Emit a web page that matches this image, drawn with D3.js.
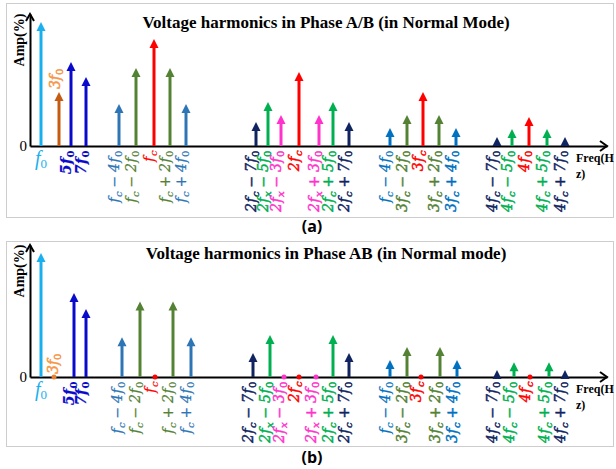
<!DOCTYPE html>
<html>
<head>
<meta charset="utf-8">
<script src="https://cdn.jsdelivr.net/npm/d3@7/dist/d3.min.js"></script>
<style>
  body { margin: 0; background: #fff; }
</style>
</head>
<body>
<svg id="chart" width="616" height="469"></svg>
<script>
// harmonic labels ("_x" = subscript)
const labelsA = ['f_0', '3f_0', '5f_0', '7f_0',
    'f_c − 4f_0', 'f_c − 2f_0', 'f_c', 'f_c + 2f_0', 'f_c + 4f_0',
    '2f_c − 7f_0', '2f_x − 5f_0', '2f_x − 3f_0', '2f_c', '2f_x + 3f_0', '2f_c + 5f_0', '2f_c + 7f_0',
    'f_c − 4f_0', '3f_c − 2f_0', '3f_c', '3f_c + 2f_0', '3f_c + 4f_0',
    '4f_c − 7f_0', '4f_c − 5f_0', '4f_0', '4f_c + 5f_0', '4f_c + 7f_0'];
const labelsB = ['f_0', '3f_0', '5f_0', '7f_0',
    'f_c − 4f_0', 'f_c − 2f_0', 'f_c', 'f_c + 2f_0', 'f_c + 4f_0',
    '2f_c − 7f_0', '2f_x − 5f_0', '2f_x − 3f_0', '2f_c', '2f_x + 3f_0', '2f_c + 5f_0', '2f_c + 7f_0',
    'f_c − 4f_0', '3f_c − 2f_0', '3f_c', '3f_c + 2f_0', '3f_c + 4f_0',
    '4f_c − 7f_0', '4f_c − 5f_0', '4f_c', '4f_c + 5f_0', '4f_c + 7f_0'];

const colors = ['#1ab0ee', '#c55a11', '#0a0acc', '#0a0acc',
    '#2e75b6', '#548235', '#ff0000', '#548235', '#2e75b6',
    '#10255f', '#00b050', '#ff33cc', '#ff0000', '#ff33cc', '#00b050', '#10255f',
    '#0070c0', '#548235', '#ff0000', '#548235', '#0070c0',
    '#10255f', '#00b050', '#ff0000', '#00b050', '#10255f'];

// schematic frequency position along the axis
const freqA = [11, 29, 41, 56, 89, 106, 124, 140, 156,
    226, 238, 251, 269, 289, 303, 319,
    360, 377, 393, 409, 426, 467, 482, 499, 517, 535];
const freqB = [11, 24, 44, 56, 92, 110, 125, 143, 161,
    223, 240, 254, 269, 286, 303, 319,
    360, 377, 391, 410, 427, 467, 484, 500, 519, 535];

// amplitude (%, f0 = 100)
const ampA = [100, 43.5, 67.7, 55.6, 33.9, 62.9, 86.3, 62.9, 33.9,
    19.4, 35.5, 25, 59.7, 25, 35.5, 19.4,
    14.5, 25, 43.5, 25, 14.5, 7.3, 13.7, 23.4, 13.7, 7.3];
const ampB = [100, 0, 67.7, 54.8, 32, 61, 0, 61, 32,
    19.4, 33.9, 0, 0, 0, 33.9, 19.4,
    13.7, 24.2, 0, 24.2, 13.7, 5.6, 12, 0, 12, 5.6];

const svg = d3.select('#chart');
const serif = "'Liberation Serif', 'DejaVu Serif', serif";
const mathFont = "'DejaVu Serif', 'Liberation Serif', serif";

// write a label with subscripts into a text element
function mathText(sel, str, subSize) {
    const parts = str.split(/(_[a-z0-9])/).filter(p => p);
    let shifted = false;
    parts.forEach(p => {
        if (p[0] === '_') {
            sel.append('tspan')
                .attr('dy', 3)
                .attr('font-size', subSize)
                .attr('font-style', /[0-9]/.test(p[1]) ? 'normal' : 'italic')
                .text(p[1]);
            shifted = true;
        } else {
            sel.append('tspan')
                .attr('dy', shifted ? -3 : 0)
                .text(p.replace(/ ([−+]) /g, '\u2009$1\u2009'));
            shifted = false;
        }
    });
}

function panel(o) {
    const g = svg.append('g');
    const x = d3.scaleLinear().domain([0, 577]).range([30, 607]);
    const y = d3.scaleLinear().domain([0, 106.5]).range([o.base, o.base - 132]);

    // dotted frame
    g.append('rect')
        .attr('x', 6.5).attr('y', o.top + 0.5)
        .attr('width', 607).attr('height', o.h)
        .attr('fill', 'none')
        .attr('stroke', '#9a9a9a')
        .attr('stroke-dasharray', '1,1');

    // axes
    const xAxis = d3.axisBottom(x).tickValues([]).tickSizeOuter(0);
    const yAxis = d3.axisLeft(y).tickValues([]).tickSizeOuter(0);
    g.append('g').attr('transform', `translate(0,${o.base})`).call(xAxis)
        .select('.domain').attr('stroke', '#000').attr('stroke-width', 2);
    g.append('g').attr('transform', 'translate(30,0)').call(yAxis)
        .select('.domain').attr('stroke', '#000').attr('stroke-width', 2);

    const top = y(106.5);
    g.append('path')
        .attr('d', `M${30 - 4},${top + 7}L30,${top}L${30 + 4},${top + 7}`)
        .attr('fill', 'none').attr('stroke', '#000').attr('stroke-width', 2);
    g.append('path')
        .attr('d', `M${607 - 7},${o.base - 5}L607,${o.base}L${607 - 7},${o.base + 5}`)
        .attr('fill', 'none').attr('stroke', '#000').attr('stroke-width', 2);

    g.append('text')
        .attr('x', 27).attr('y', o.base).attr('dy', '0.35em')
        .attr('text-anchor', 'end')
        .attr('font-family', serif).attr('font-size', 15)
        .text('0');

    g.append('text')
        .attr('transform', `translate(19,${o.base - 106}) rotate(-90)`)
        .attr('dy', '0.35em')
        .attr('text-anchor', 'middle')
        .attr('font-family', serif).attr('font-size', 14).attr('font-weight', 'bold')
        .text('Amp(%)');

    g.append('text')
        .attr('x', 576).attr('y', o.base + 16)
        .attr('font-family', serif).attr('font-size', 12).attr('font-weight', 'bold')
        .text('Freq(H');
    g.append('text')
        .attr('x', 576).attr('y', o.base + 32)
        .attr('font-family', serif).attr('font-size', 12).attr('font-weight', 'bold')
        .text('z)');

    // title
    g.append('text')
        .attr('x', 326).attr('y', o.base - 118)
        .attr('text-anchor', 'middle')
        .attr('font-family', serif).attr('font-size', 17).attr('font-weight', 'bold')
        .text(o.title);

    // harmonics
    const items = o.labels.map((l, i) => ({ label: l, f: o.freq[i], a: o.amp[i], c: colors[i], i }));

    const arrows = g.selectAll('g.harm')
        .data(items.filter(d => d.a > 0))
        .enter().append('g').attr('class', 'harm');
    arrows.append('line')
        .attr('x1', d => x(d.f)).attr('x2', d => x(d.f))
        .attr('y1', o.base).attr('y2', d => Math.min(o.base, y(d.a) + 8))
        .attr('stroke', d => d.c).attr('stroke-width', 3);
    arrows.append('path')
        .attr('d', d => {
            const cx = x(d.f), ty = y(d.a);
            return `M${cx},${ty}L${cx + 4.5},${ty + 9}L${cx - 4.5},${ty + 9}Z`;
        })
        .attr('fill', d => d.c);

    g.selectAll('circle.zero')
        .data(items.filter(d => d.a === 0))
        .enter().append('circle').attr('class', 'zero')
        .attr('cx', d => x(d.f)).attr('cy', o.base).attr('r', 2.5)
        .attr('fill', d => d.i === 1 ? '#ed7d31' : d.c);

    // labels
    items.forEach(d => {
        if (d.i === 0) {
            const t = g.append('text')
                .attr('x', x(d.f)).attr('y', o.base + 19)
                .attr('text-anchor', 'middle')
                .attr('font-family', serif).attr('font-size', 20).attr('font-style', 'italic')
                .attr('fill', d.c);
            mathText(t, d.label, 13);
        } else if (d.i === 1) {
            const t = g.append('text')
                .attr('transform', `translate(${x(d.f) + (d.a > 0 ? 1 : 4)},${(d.a > 0 ? y(d.a) : o.base) - 3}) rotate(-90)`)
                .attr('dy', '0.35em')
                .attr('font-family', mathFont).attr('font-size', 14).attr('font-style', 'italic')
                .attr('fill', '#f79646')
                .attr('stroke', '#f79646').attr('stroke-width', 0.5);
            mathText(t, d.label, 10);
        } else {
            const t = g.append('text')
                .attr('transform', `translate(${x(d.f)},${o.base + 4}) rotate(-90)`)
                .attr('dy', '0.35em')
                .attr('text-anchor', 'end')
                .attr('font-family', mathFont).attr('font-size', 14).attr('font-style', 'italic')
                .attr('font-weight', d.i === 2 || d.i === 3 ? 'bold' : 'normal')
                .attr('letter-spacing', 0.5)
                .attr('fill', d.c)
                .attr('stroke', d.c).attr('stroke-width', /^[0-9]/.test(d.label) && d.i > 3 ? 0.45 : 0.2);
            mathText(t, d.label, 10);
        }
    });

    // caption
    svg.append('text')
        .attr('x', 312).attr('y', o.capY)
        .attr('text-anchor', 'middle')
        .attr('font-family', "'Open Sans', 'Liberation Sans', sans-serif")
        .attr('font-size', 16).attr('font-weight', 'bold')
        .text(o.caption);
}

panel({ top: 3, h: 214, base: 146, title: 'Voltage harmonics in Phase A/B (in Normal Mode)',
    labels: labelsA, freq: freqA, amp: ampA, caption: '(a)', capY: 232 });
panel({ top: 241, h: 205, base: 377, title: 'Voltage harmonics in Phase AB (in Normal mode)',
    labels: labelsB, freq: freqB, amp: ampB, caption: '(b)', capY: 463 });
</script>
</body>
</html>
